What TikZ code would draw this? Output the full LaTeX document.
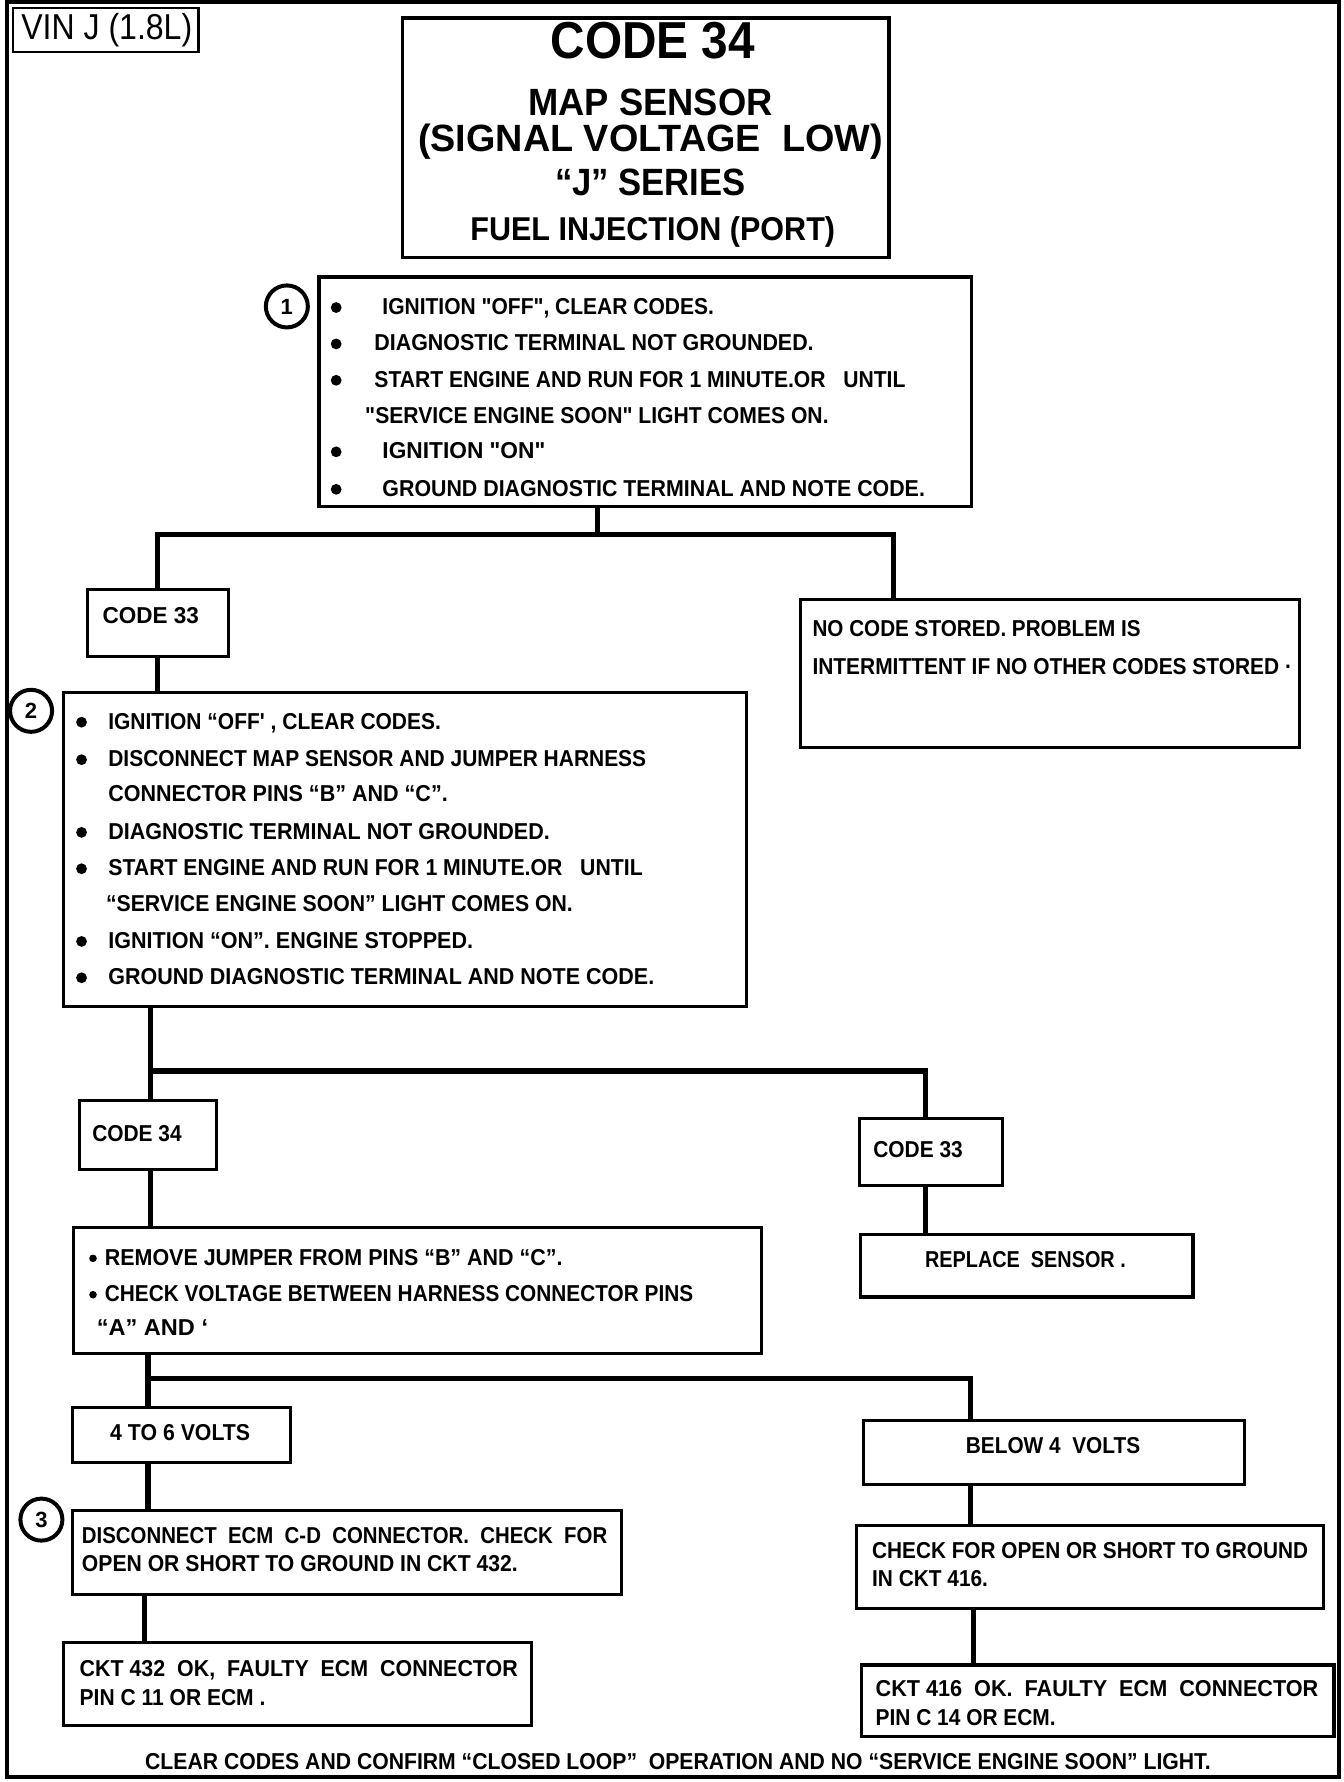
\documentclass[tikz,border=0pt]{standalone}
\usepackage{fontspec}
\setmainfont{Liberation Sans}[Ligatures=TeXOff]
\usepackage{graphicx}
\usetikzlibrary{fit}
\newdimen\vx \vx=0.5735pt
\newcommand\fw[2]{\resizebox{#1\vx}{\height}{#2}}
\newcommand\bodyfont{\fontsize{11.5}{12}\selectfont\bfseries}
\begin{document}
\begin{tikzpicture}[x=0.5735pt,y=-0.568pt,
  box/.style={draw, line width=1.6pt, inner sep=0pt},
  conn/.style={line width=2.6pt, line join=miter},
  txt/.style={anchor=base west, inner sep=0pt, font=\bodyfont},
  ctxt/.style={anchor=base, inner sep=0pt, font=\bodyfont},
  bul/.style={circle, fill, inner sep=0pt, minimum size=5.4pt},
  sbul/.style={circle, fill, inner sep=0pt, minimum size=3.8pt},
  ttl/.style={anchor=base, inner sep=0pt},
  num/.style={circle, draw, line width=2pt, minimum size=21pt, inner sep=0pt, fill=white, font=\fontsize{11}{11}\selectfont\bfseries}]
\useasboundingbox[fill=white] (-1.1,1.24) rectangle (1170.7,1570);
% outer frame
\node[draw, line width=2pt, inner sep=0pt, fit={(5,3) (1166,1566)}] (frame) {};
% VIN box
\node[draw, line width=1.1pt, inner sep=0pt, fit={(10,8) (172,47)}] (vin) {};
\node[ttl, font=\fontsize{18}{18}\selectfont] (vint) at (92,36) {\fw{149}{VIN J (1.8L)}};
% title
\node[box, line width=1.8pt, fit={(350,17) (774,228)}] (title) {};
\node[ttl, font=\fontsize{26}{26}\selectfont\bfseries] (t1) at (568,53) {\fw{178}{CODE 34}};
\node[ttl, font=\fontsize{19}{19}\selectfont\bfseries] (t2) at (566,103) {\fw{213}{MAP SENSOR}};
\node[ttl, font=\fontsize{19}{19}\selectfont\bfseries] (t3) at (566,135) {\fw{405}{(SIGNAL VOLTAGE\ \ LOW)}};
\node[ttl, font=\fontsize{19}{19}\selectfont\bfseries] (t4) at (566,173) {\fw{166}{“J” SERIES}};
\node[ttl, font=\fontsize{16.5}{16}\selectfont\bfseries] (t5) at (568,213) {\fw{318}{FUEL INJECTION (PORT)}};
% step 1
\node[box, fit={(277,245) (846,447)}] (b1) {};
\node[num] (n1) at (249,271) {1};
\node[bul] (b1a) at (292,272) {};
\node[bul] (b1b) at (292,304) {};
\node[bul] (b1c) at (292,336) {};
\node[bul] (b1e) at (292,399) {};
\node[bul] (b1f) at (292,432) {};
\node[txt] (l11) at (332,278) {\fw{289}{IGNITION "OFF", CLEAR CODES.}};
\node[txt] (l12) at (325,310) {\fw{383}{DIAGNOSTIC TERMINAL NOT GROUNDED.}};
\node[txt] (l13) at (325,342) {\fw{463}{START ENGINE AND RUN FOR 1 MINUTE.OR\ \ \ UNTIL}};
\node[txt] (l14) at (317,374) {\fw{404}{"SERVICE ENGINE SOON" LIGHT COMES ON.}};
\node[txt] (l15) at (332,405) {\fw{142}{IGNITION "ON"}};
\node[txt] (l16) at (332,438) {\fw{473}{GROUND DIAGNOSTIC TERMINAL AND NOTE CODE.}};
% results of step 1
\node[box, fit={(75,520) (198,579)}] (c33a) {};
\node[txt] (c33at) at (88,550) {\fw{84}{CODE 33}};
\node[box, fit={(697,529) (1132,659)}] (nc) {};
\node[txt] (nc1) at (707,562) {\fw{286}{NO CODE STORED. PROBLEM IS}};
\node[txt] (nc2) at (707,595) {\fw{418}{INTERMITTENT IF NO OTHER CODES STORED ·}};
% step 2
\node[box, fit={(54,611) (650,887)}] (b2) {};
\node[num] (n2) at (26,627) {2};
\node[bul] (b2a) at (70,637) {};
\node[bul] (b2b) at (70,670) {};
\node[bul] (b2d) at (70,734) {};
\node[bul] (b2e) at (70,766) {};
\node[bul] (b2g) at (70,830) {};
\node[bul] (b2h) at (70,862) {};
\node[txt] (l21) at (93,643) {\fw{290}{IGNITION “OFF' , CLEAR CODES.}};
\node[txt] (l22) at (93,676) {\fw{469}{DISCONNECT MAP SENSOR AND JUMPER HARNESS}};
\node[txt] (l23) at (93,707) {\fw{296}{CONNECTOR PINS “B” AND “C”.}};
\node[txt] (l24) at (93,740) {\fw{385}{DIAGNOSTIC TERMINAL NOT GROUNDED.}};
\node[txt] (l25) at (93,772) {\fw{466}{START ENGINE AND RUN FOR 1 MINUTE.OR\ \ \ UNTIL}};
\node[txt] (l26) at (91,804) {\fw{407}{“SERVICE ENGINE SOON” LIGHT COMES ON.}};
\node[txt] (l27) at (93,836) {\fw{318}{IGNITION “ON”. ENGINE STOPPED.}};
\node[txt] (l28) at (93,868) {\fw{476}{GROUND DIAGNOSTIC TERMINAL AND NOTE CODE.}};
% results of step 2
\node[box, fit={(68,970) (188,1031)}] (c34b) {};
\node[txt] (c34bt) at (79,1006) {\fw{78}{CODE 34}};
\node[box, fit={(748,986) (873,1045)}] (c33b) {};
\node[txt] (c33bt) at (760,1020) {\fw{78}{CODE 33}};
\node[box, fit={(63,1082) (663,1193)}] (b3) {};
\node[sbul] (b3a) at (80,1109) {};
\node[sbul] (b3b) at (80,1141) {};
\node[txt] (l31) at (90,1115) {\fw{399}{REMOVE JUMPER FROM PINS “B” AND “C”.}};
\node[txt] (l32) at (90,1147) {\fw{513}{CHECK VOLTAGE BETWEEN HARNESS CONNECTOR PINS}};
\node[txt] (l33) at (83,1177) {\fw{97}{“A” AND ‘}};
\node[box, fit={(749,1088) (1039,1143)}] (repl) {};
\node[ctxt] (replt) at (893,1117) {\fw{175}{REPLACE\ \ SENSOR .}};
% voltage results
\node[box, fit={(62,1240) (252,1289)}] (v46) {};
\node[ctxt] (v46t) at (156,1269) {\fw{122}{4 TO 6 VOLTS}};
\node[box, fit={(752,1252) (1084,1308)}] (below) {};
\node[ctxt] (belowt) at (917,1281) {\fw{152}{BELOW 4\ \ VOLTS}};
% step 3
\node[box, fit={(62,1331) (541,1405)}] (s3) {};
\node[num] (n3) at (35,1339) {3};
\node[txt] (l41) at (70,1360) {\fw{458}{DISCONNECT\ \ ECM\ \ C-D\ \ CONNECTOR.\ \ CHECK\ \ FOR}};
\node[txt] (l42) at (70,1385) {\fw{380}{OPEN OR SHORT TO GROUND IN CKT 432.}};
\node[box, fit={(54,1447) (462,1520)}] (ck432) {};
\node[txt] (l51) at (68,1477) {\fw{382}{CKT 432\ \ OK,\ \ FAULTY\ \ ECM\ \ CONNECTOR}};
\node[txt] (l52) at (68,1503) {\fw{162}{PIN C 11 OR ECM .}};
\node[box, fit={(746,1344) (1153,1417)}] (chk) {};
\node[txt] (l61) at (759,1373) {\fw{380}{CHECK FOR OPEN OR SHORT TO GROUND}};
\node[txt] (l62) at (759,1398) {\fw{101}{IN CKT 416.}};
\node[box, fit={(750,1467) (1162,1530)}] (ck416) {};
\node[txt] (l71) at (762,1495) {\fw{386}{CKT 416\ \ OK.\ \ FAULTY\ \ ECM\ \ CONNECTOR}};
\node[txt] (l72) at (762,1520) {\fw{157}{PIN C 14 OR ECM.}};
\node[ctxt] (foot) at (590,1559) {\fw{929}{CLEAR CODES AND CONFIRM “CLOSED LOOP”\ \ OPERATION AND NO “SERVICE ENGINE SOON” LIGHT.}};
% junction coordinates
\coordinate (j1) at (520,472);
\coordinate (j1r) at (778,472);
\coordinate (j2l) at (130,944);
\coordinate (j2r) at (806,944);
\coordinate (j3l) at (128,1215);
\coordinate (j3r) at (845,1215);
\coordinate (j4) at (125,1420);
\coordinate (j5) at (848,1440);
% connectors
\draw[conn] (b1.south -| j1) -- (j1);
\draw[conn] (c33a.north) |- (j1r) -- (nc.north -| j1r);
\draw[conn] (c33a.south) -- (c33a.south |- b2.north);
\draw[conn] (b2.south -| j2l) -- (c34b.north -| j2l);
\draw[conn] (j2l) -- (j2r) -- (c33b.north -| j2r);
\draw[conn] (c34b.south -| j2l) -- (b3.north -| j2l);
\draw[conn] (c33b.south -| j2r) -- (repl.north -| j2r);
\draw[conn] (b3.south -| j3l) -- (v46.north -| j3l);
\draw[conn] (j3l) -- (j3r) -- (below.north -| j3r);
\draw[conn] (v46.south -| j3l) -- (s3.north -| j3l);
\draw[conn] (s3.south -| j4) -- (ck432.north -| j4);
\draw[conn] (below.south -| j3r) -- (chk.north -| j3r);
\draw[conn] (chk.south -| j5) -- (ck416.north -| j5);
\end{tikzpicture}
\end{document}
